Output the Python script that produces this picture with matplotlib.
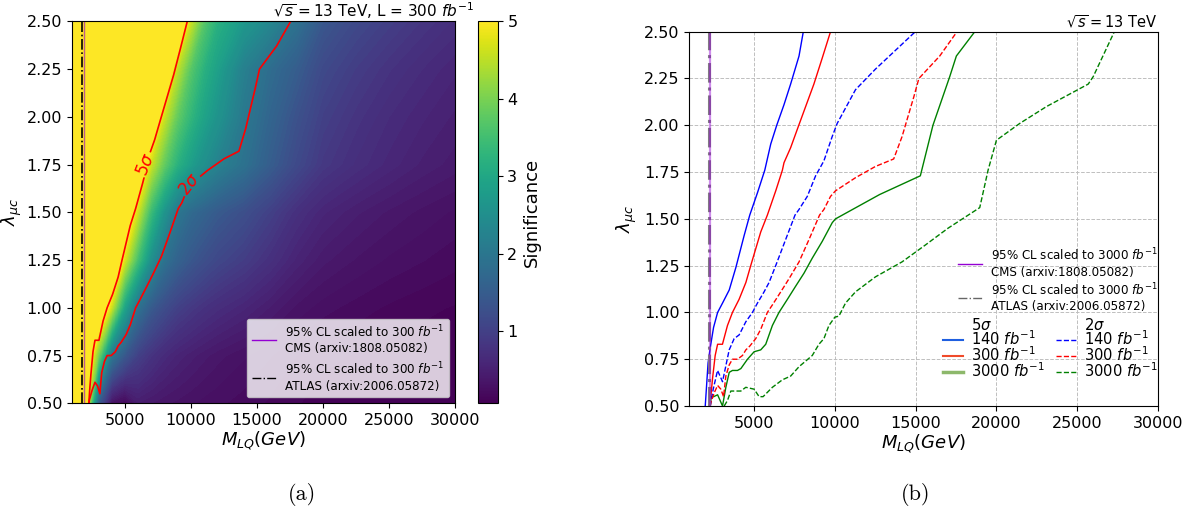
import numpy as np
import matplotlib
matplotlib.use("Agg")
import matplotlib.pyplot as plt
from matplotlib.lines import Line2D
from matplotlib.path import Path
from matplotlib.colors import Normalize
from matplotlib.cm import ScalarMappable

# ---- significance table (300 fb^-1) ----
mass_grid = [1000, 2000, 3000, 4000, 5000, 6000, 7000, 8000, 9000, 10000,
             11000, 12000, 14000, 16000, 18000, 20000, 22500, 25000, 27500, 30000]
lam_grid = [0.50, 0.75, 1.00, 1.25, 1.50, 1.75, 2.00, 2.25, 2.50]
sig_050 = [6, 5.5, 1.5, 0.3, 0.15, 0.45, 0.4, 0.36, 0.33, 0.3, 0.27, 0.25, 0.21, 0.17, 0.13, 0.1, 0.09, 0.08, 0.075, 0.07]
sig_075 = [8, 6, 4, 2.0, 1.4, 1.0, 0.8, 0.65, 0.55, 0.48, 0.42, 0.37, 0.3, 0.24, 0.18, 0.14, 0.12, 0.1, 0.09, 0.08]
sig_100 = [10, 8, 6, 4.6, 2.9, 1.9, 1.45, 1.2, 1.0, 0.88, 0.78, 0.7, 0.58, 0.45, 0.33, 0.26, 0.21, 0.17, 0.14, 0.12]
sig_125 = [12, 10, 8, 6.2, 4.7, 3.5, 2.5, 1.9, 1.6, 1.4, 1.25, 1.12, 0.95, 0.75, 0.55, 0.42, 0.34, 0.28, 0.24, 0.2]
sig_150 = [14, 12, 9.5, 7.5, 5.8, 4.6, 3.4, 2.6, 2.0, 1.75, 1.6, 1.45, 1.25, 1.0, 0.75, 0.58, 0.47, 0.39, 0.33, 0.28]
sig_175 = [16, 14, 11, 9, 7, 5.6, 4.6, 3.8, 3.2, 2.8, 2.5, 2.25, 1.9, 1.5, 1.15, 0.88, 0.72, 0.6, 0.5, 0.43]
sig_200 = [18, 16, 13, 10.5, 8.5, 7, 5.7, 4.6, 3.8, 3.3, 2.9, 2.6, 2.05, 1.65, 1.3, 1.0, 0.82, 0.68, 0.58, 0.5]
sig_225 = [20, 18, 15, 12, 10, 8, 6.6, 5.7, 4.5, 3.7, 3.2, 2.85, 2.2, 1.8, 1.5, 1.15, 0.95, 0.8, 0.68, 0.58]
sig_250 = [20, 20, 18, 15, 12, 10, 8.5, 7, 5.8, 4.6, 3.7, 3.2, 2.7, 2.35, 1.9, 1.4, 1.15, 0.98, 0.84, 0.72]

# ---- 5 sigma / 2 sigma reach curves (M_LQ, lambda) ----
m5_140 = [1975, 2150, 2300, 2490, 2740, 3045, 3460, 3870, 4380, 4730, 5210, 5660, 6030, 6400, 6850, 7260, 7780, 8045]
l5_140 = [0.50, 0.73, 0.82, 0.92, 1.00, 1.05, 1.12, 1.24, 1.41, 1.52, 1.64, 1.76, 1.90, 2.00, 2.11, 2.22, 2.37, 2.50]

m5_300 = [2280, 2330, 2430, 2590, 2740, 3040, 3350, 3660, 4070, 4490, 4790, 5100, 5410, 5820, 6340, 6750, 6850, 7260, 7680, 8190, 8700, 9220, 9730]
l5_300 = [0.50, 0.56, 0.65, 0.77, 0.83, 0.83, 0.93, 1.00, 1.07, 1.16, 1.25, 1.34, 1.43, 1.52, 1.65, 1.76, 1.80, 1.88, 1.98, 2.10, 2.22, 2.36, 2.50]

m5_3000 = [2290, 2330, 2500, 2740, 3045, 3250, 3460, 3660, 3970, 4180, 4590, 5000, 5410, 5720, 6130, 6540, 7060, 7570, 8090, 8600, 9220, 9840, 10040, 12770, 15290, 16070, 17110, 17520, 18660]
l5_3000 = [0.50, 0.55, 0.55, 0.56, 0.50, 0.60, 0.68, 0.69, 0.69, 0.70, 0.75, 0.79, 0.80, 0.83, 0.93, 1.00, 1.07, 1.14, 1.21, 1.29, 1.38, 1.48, 1.50, 1.63, 1.73, 2.00, 2.26, 2.37, 2.50]

m2_140 = [2284, 2469, 2737, 3045, 3457, 3765, 4074, 4486, 4897, 5206, 5617, 5926, 6337, 6955, 7531, 7778, 8292, 8807, 9321, 9835, 10144, 11276, 12510, 13745, 14979]
l2_140 = [0.50, 0.59, 0.69, 0.63, 0.80, 0.86, 0.88, 0.95, 1.00, 1.05, 1.11, 1.16, 1.25, 1.39, 1.52, 1.55, 1.62, 1.73, 1.81, 1.94, 2.01, 2.19, 2.30, 2.40, 2.50]

m2_300 = [2280, 2325, 2530, 2740, 2940, 3110, 3250, 3460, 3660, 3970, 4280, 4490, 4730, 5100, 5410, 5820, 6130, 6650, 7160, 7780, 8400, 9050, 9320, 9730, 10040, 11280, 12510, 13640, 14160, 14570, 14880, 15200, 16490, 17560]
l2_300 = [0.50, 0.52, 0.57, 0.61, 0.59, 0.55, 0.66, 0.72, 0.75, 0.75, 0.77, 0.80, 0.82, 0.86, 0.91, 1.00, 1.04, 1.11, 1.18, 1.27, 1.39, 1.52, 1.55, 1.62, 1.65, 1.72, 1.78, 1.82, 1.94, 2.06, 2.15, 2.25, 2.37, 2.50]

m2_3000 = [3148, 3354, 3560, 4177, 4486, 5000, 5309, 5556, 6132, 6749, 7263, 7778, 8601, 9012, 9321, 9630, 10000, 10247, 10658, 11276, 12510, 14156, 15597, 17004, 18967, 19483, 20000, 21446, 23099, 25682, 25992, 27300]
l2_3000 = [0.50, 0.53, 0.58, 0.58, 0.60, 0.59, 0.55, 0.55, 0.60, 0.64, 0.66, 0.71, 0.77, 0.83, 0.86, 0.93, 0.975, 0.98, 1.05, 1.11, 1.19, 1.27, 1.36, 1.45, 1.56, 1.76, 1.92, 2.01, 2.10, 2.22, 2.26, 2.50]

# existing limits (vertical lines)
cms_300, atlas_300 = 1894, 1795
cms_3000, atlas_3000 = 2284, 2185

xticks = [5000, 10000, 15000, 20000, 25000, 30000]
yticks = [0.50, 0.75, 1.00, 1.25, 1.50, 1.75, 2.00, 2.25, 2.50]
vmin, vmax = 0.07, 5.0

fig = plt.figure(figsize=(11.96, 5.12), dpi=100)
ax1 = fig.add_axes([0.0602, 0.2123, 0.3202, 0.7461])
cax = fig.add_axes([0.3997, 0.2123, 0.0163, 0.7461])
ax2 = fig.add_axes([0.5765, 0.2070, 0.3917, 0.7311])

# ---------------- panel (a) ----------------
sig = np.array([sig_050, sig_075, sig_100, sig_125, sig_150, sig_175, sig_200, sig_225, sig_250])
MM, LL = np.meshgrid(mass_grid, lam_grid)
ax1.contourf(MM, LL, sig, levels=np.linspace(vmin, vmax, 90), cmap='viridis', extend='both')
ax1.set_xlim(1000, 30000)
ax1.set_ylim(0.5, 2.5)

ax1.axvline(atlas_300, color='k', ls='-.', lw=1.2)
ax1.axvline(cms_300, color='darkviolet', lw=1, alpha=0.6)

# contour lines with gaps for the inline labels
lab5 = (6590, 1.75)
lab2 = (9924, 1.646)
t = np.linspace(0, 2 * np.pi, 40)
verts = [(0, 0), (1, 0), (1, 1), (0, 1), (0, 0)]
codes = [Path.MOVETO, Path.LINETO, Path.LINETO, Path.LINETO, Path.CLOSEPOLY]
for c in (lab5, lab2):
    cx, cy = ax1.transLimits.transform(c)
    ring = [(cx + 0.034 * np.cos(a), cy - 0.034 * np.sin(a)) for a in t]
    verts += ring
    codes += [Path.MOVETO] + [Path.LINETO] * (len(ring) - 2) + [Path.CLOSEPOLY]
hole = Path(verts, codes)
for mx, ly in ((m5_300, l5_300), (m2_300, l2_300)):
    ln, = ax1.plot(mx, ly, color='red', lw=1.2)
    ln.set_clip_path(hole, ax1.transAxes)
ax1.text(*lab5, r'$5\sigma$', color='red', fontsize=12, rotation=68, ha='center', va='center')
ax1.text(*lab2, r'$2\sigma$', color='red', fontsize=12, rotation=52, ha='center', va='center')

h_cms = Line2D([], [], color='darkviolet', lw=1)
h_atl = Line2D([], [], color='k', ls='-.', lw=1)
ax1.legend([h_cms, h_atl],
           ['95% CL scaled to 300 $fb^{-1}$\nCMS (arxiv:1808.05082)',
            '95% CL scaled to 300 $fb^{-1}$\nATLAS (arxiv:2006.05872)'],
           loc='lower right', fontsize=8.6)

ax1.set_xticks(xticks)
ax1.set_yticks(yticks)
ax1.set_yticklabels(['%.2f' % v for v in yticks])
ax1.tick_params(labelsize=11.5)
ax1.set_xlabel(r'$M_{LQ}(GeV)$', fontsize=13, labelpad=1)
ax1.set_ylabel(r'$\lambda_{\mu c}$', fontsize=13, labelpad=2)

cb = fig.colorbar(ScalarMappable(norm=Normalize(vmin, vmax), cmap='viridis'), cax=cax, ticks=[1, 2, 3, 4, 5])
cb.ax.tick_params(labelsize=11.5)
cb.set_label('Significance', fontsize=13)
cb.outline.set_linewidth(0.8)

fig.text(474 / 1196, 1 - 17 / 512, r'$\sqrt{s} = 13$ TeV, L = 300 $fb^{-1}$',
         ha='right', va='baseline', fontsize=11)

# ---------------- panel (b) ----------------
ax2.plot(m5_140, l5_140, color='blue', lw=1)
ax2.plot(m5_300, l5_300, color='red', lw=1)
ax2.plot(m5_3000, l5_3000, color='green', lw=1)
ax2.plot(m2_140, l2_140, color='blue', lw=1, ls='--')
ax2.plot(m2_300, l2_300, color='red', lw=1, ls='--')
ax2.plot(m2_3000, l2_3000, color='green', lw=1, ls='--')
ax2.axvline(atlas_3000, color='0.5', ls='-.', lw=2.2)
ax2.axvline(cms_3000, color='darkviolet', lw=1.6, alpha=0.45)

ax2.set_xlim(1000, 30000)
ax2.set_ylim(0.5, 2.5)
ax2.set_xticks(xticks)
ax2.set_yticks(yticks)
ax2.set_yticklabels(['%.2f' % v for v in yticks])
ax2.tick_params(labelsize=11.5)
ax2.grid(True, ls='--', color='0.75', lw=0.7)
ax2.set_xlabel(r'$M_{LQ}(GeV)$', fontsize=13, labelpad=1)
ax2.set_ylabel(r'$\lambda_{\mu c}$', fontsize=13)
ax2.set_title(r'$\sqrt{s} = 13$ TeV', loc='right', fontsize=10.5, pad=3)

h_cms2 = Line2D([], [], color='darkviolet', lw=1)
h_atl2 = Line2D([], [], color='0.4', ls='-.', lw=1)
leg1 = ax2.legend([h_cms2, h_atl2],
                  ['95% CL scaled to 3000 $fb^{-1}$\nCMS (arxiv:1808.05082)',
                   '95% CL scaled to 3000 $fb^{-1}$\nATLAS (arxiv:2006.05872)'],
                  loc='upper right', bbox_to_anchor=(1.0, 0.425), fontsize=8.6,
                  frameon=False, borderpad=0, borderaxespad=0, labelspacing=0.25)
ax2.add_artist(leg1)

blank = Line2D([], [], color='none')
hs = [blank,
      Line2D([], [], color='#1f5fe0', lw=1.5),
      Line2D([], [], color='#f04a2a', lw=1.5),
      Line2D([], [], color='#8db86b', lw=2.5),
      blank,
      Line2D([], [], color='blue', lw=1, ls='--'),
      Line2D([], [], color='red', lw=1, ls='--'),
      Line2D([], [], color='green', lw=1, ls='--')]
labs = [r'$5\sigma$', r'140 $fb^{-1}$', r'300 $fb^{-1}$', r'3000 $fb^{-1}$',
        r'$2\sigma$', r'140 $fb^{-1}$', r'300 $fb^{-1}$', r'3000 $fb^{-1}$']
ax2.legend(hs, labs, ncol=2, loc='lower right', bbox_to_anchor=(1.0, 0.07),
           fontsize=10.6, frameon=False, borderpad=0, borderaxespad=0,
           labelspacing=-0.2, handlelength=1.4, handletextpad=0.5, columnspacing=0.75)

fig.text(302 / 1196, 1 - 494 / 512, '(a)', family='cmr10', fontsize=16, ha='center', va='center')
fig.text(916 / 1196, 1 - 494 / 512, '(b)', family='cmr10', fontsize=16, ha='center', va='center')

fig.savefig('out.png', dpi=100)
